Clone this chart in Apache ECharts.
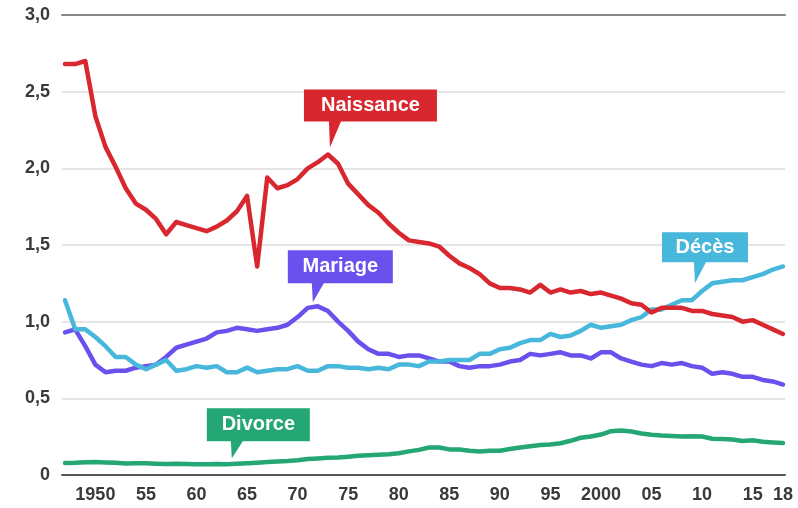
<!DOCTYPE html>
<html lang="fr">
<head>
<meta charset="UTF-8">
<script src="https://cdn.jsdelivr.net/npm/echarts@6/dist/echarts.min.js"></script>
<title>Naissances, décès, mariages et divorces</title>
</head>
<body style="margin:0;background:#fff">
<div id="main" style="width:798px;height:508px;"></div>
<script>
// values in millions, one per year
var years = [
  1947, 1948, 1949, 1950, 1951, 1952, 1953, 1954, 1955, 1956,
  1957, 1958, 1959, 1960, 1961, 1962, 1963, 1964, 1965, 1966,
  1967, 1968, 1969, 1970, 1971, 1972, 1973, 1974, 1975, 1976,
  1977, 1978, 1979, 1980, 1981, 1982, 1983, 1984, 1985, 1986,
  1987, 1988, 1989, 1990, 1991, 1992, 1993, 1994, 1995, 1996,
  1997, 1998, 1999, 2000, 2001, 2002, 2003, 2004, 2005, 2006,
  2007, 2008, 2009, 2010, 2011, 2012, 2013, 2014, 2015, 2016,
  2017, 2018
];
var naissance = [
  2.68, 2.68, 2.70, 2.34, 2.14, 2.01, 1.87, 1.77, 1.73, 1.67,
  1.57, 1.65, 1.63, 1.61, 1.59, 1.62, 1.66, 1.72, 1.82, 1.36,
  1.94, 1.87, 1.89, 1.93, 2.00, 2.04, 2.09, 2.03, 1.90, 1.83,
  1.76, 1.71, 1.64, 1.58, 1.53, 1.52, 1.51, 1.49, 1.43, 1.38,
  1.35, 1.31, 1.25, 1.22, 1.22, 1.21, 1.19, 1.24, 1.19, 1.21,
  1.19, 1.20, 1.18, 1.19, 1.17, 1.15, 1.12, 1.11, 1.06, 1.09,
  1.09, 1.09, 1.07, 1.07, 1.05, 1.04, 1.03, 1.00, 1.01, 0.98,
  0.95, 0.92
];
var deces = [
  1.14, 0.95, 0.95, 0.90, 0.84, 0.77, 0.77, 0.72, 0.69, 0.72,
  0.75, 0.68, 0.69, 0.71, 0.70, 0.71, 0.67, 0.67, 0.70, 0.67,
  0.68, 0.69, 0.69, 0.71, 0.68, 0.68, 0.71, 0.71, 0.70, 0.70,
  0.69, 0.70, 0.69, 0.72, 0.72, 0.71, 0.74, 0.74, 0.75, 0.75,
  0.75, 0.79, 0.79, 0.82, 0.83, 0.86, 0.88, 0.88, 0.92, 0.90,
  0.91, 0.94, 0.98, 0.96, 0.97, 0.98, 1.01, 1.03, 1.08, 1.08,
  1.11, 1.14, 1.14, 1.20, 1.25, 1.26, 1.27, 1.27, 1.29, 1.31,
  1.34, 1.36
];
var mariage = [
  0.93, 0.95, 0.84, 0.72, 0.67, 0.68, 0.68, 0.70, 0.71, 0.72,
  0.77, 0.83, 0.85, 0.87, 0.89, 0.93, 0.94, 0.96, 0.95, 0.94,
  0.95, 0.96, 0.98, 1.03, 1.09, 1.10, 1.07, 1.00, 0.94, 0.87,
  0.82, 0.79, 0.79, 0.77, 0.78, 0.78, 0.76, 0.74, 0.74, 0.71,
  0.70, 0.71, 0.71, 0.72, 0.74, 0.75, 0.79, 0.78, 0.79, 0.80,
  0.78, 0.78, 0.76, 0.80, 0.80, 0.76, 0.74, 0.72, 0.71, 0.73,
  0.72, 0.73, 0.71, 0.70, 0.66, 0.67, 0.66, 0.64, 0.64, 0.62,
  0.61, 0.59
];
var divorce = [
  0.079, 0.080, 0.083, 0.084, 0.082, 0.080, 0.075, 0.077, 0.076, 0.073,
  0.071, 0.073, 0.072, 0.070, 0.070, 0.072, 0.070, 0.073, 0.077, 0.080,
  0.084, 0.088, 0.091, 0.096, 0.104, 0.108, 0.112, 0.114, 0.119, 0.125,
  0.129, 0.132, 0.135, 0.142, 0.154, 0.164, 0.179, 0.179, 0.167, 0.166,
  0.158, 0.154, 0.158, 0.158, 0.169, 0.179, 0.188, 0.195, 0.199, 0.207,
  0.223, 0.243, 0.251, 0.264, 0.286, 0.290, 0.284, 0.271, 0.262, 0.257,
  0.255, 0.251, 0.253, 0.251, 0.236, 0.235, 0.231, 0.222, 0.226, 0.217,
  0.212, 0.208
];
var xTickYears = [1950, 1955, 1960, 1965, 1970, 1975, 1980, 1985, 1990, 1995, 2000, 2005, 2010, 2015, 2018];
var xTickLabels = ['1950', '55', '60', '65', '70', '75', '80', '85', '90', '95', '2000', '05', '10', '15', '18'];

var font = '"Liberation Sans", Arial, Helvetica, sans-serif';

function pairs(vals) {
  return years.map(function (y, i) { return [y, vals[i]]; });
}

// speech-bubble label: box w x h, pointer of height p starting px from the box's left edge,
// pointer tip sits gap px above the curve at the given year (shifted dx px)
function bubble(name, year, vals, color, w, h, p, px, dx, gap) {
  var path = 'path://M0,0L' + w + ',0L' + w + ',' + h + 'L' + (px + 12) + ',' + h +
    'L' + (px + 1) + ',' + (h + p) + 'L' + px + ',' + h + 'L0,' + h + 'Z';
  return {
    silent: true,
    animation: false,
    symbol: path,
    symbolSize: [w, h + p],
    symbolOffset: [w / 2 - px - 1 + dx, -(h + p) / 2 - gap],
    itemStyle: { color: color },
    label: {
      show: true,
      position: 'inside',
      offset: [0, -p / 2],
      formatter: name,
      color: '#fff',
      fontSize: 20,
      fontWeight: 'bold',
      fontFamily: font
    },
    data: [{ coord: [year, vals[years.indexOf(year)]] }]
  };
}

function line(name, vals, color, mark) {
  return {
    name: name,
    type: 'line',
    data: pairs(vals),
    showSymbol: false,
    symbol: 'none',
    lineStyle: { color: color, width: 4.5, cap: 'round', join: 'round' },
    itemStyle: { color: color },
    markPoint: mark
  };
}

var RED = '#d8272e', PURPLE = '#6a50ec', CYAN = '#48b7dc', GREEN = '#24a774';

var chart = echarts.init(document.getElementById('main'));
chart.setOption({
  animation: false,
  backgroundColor: '#fff',
  grid: { left: 62, right: 13, top: 15, bottom: 33 },
  xAxis: [{
    type: 'value',
    min: 1946.7,
    max: 2018.2,
    splitLine: { show: false },
    axisTick: { show: false },
    axisLine: { lineStyle: { color: '#555', width: 2 } },
    axisLabel: {
      customValues: xTickYears,
      formatter: function (v) { return xTickLabels[xTickYears.indexOf(Math.round(v))]; },
      color: '#3a3a3a',
      fontSize: 18,
      fontWeight: 'bold',
      fontFamily: font,
      margin: 11
    }
  }, {
    type: 'value',
    position: 'top',
    min: 1946.7,
    max: 2018.2,
    splitLine: { show: false },
    axisTick: { show: false },
    axisLabel: { show: false },
    axisLine: { show: true, lineStyle: { color: '#888', width: 2 } }
  }],
  yAxis: {
    type: 'value',
    min: 0,
    max: 3,
    interval: 0.5,
    axisLine: { show: false },
    axisTick: { show: false },
    splitLine: { lineStyle: { color: '#dcdcdc', width: 1.5 } },
    axisLabel: {
      formatter: function (v) { return v === 0 ? '0' : v.toFixed(1).replace('.', ','); },
      color: '#3a3a3a',
      fontSize: 18,
      fontWeight: 'bold',
      fontFamily: font,
      margin: 12
    }
  },
  series: [
    line('Divorce', divorce, GREEN, bubble('Divorce', 1963, divorce, GREEN, 103, 33, 17, 24, 5, 6)),
    line('Mariage', mariage, PURPLE, bubble('Mariage', 1972, mariage, PURPLE, 105, 33, 19, 24, -5, 4)),
    line('Décès', deces, CYAN, bubble('Décès', 2009, deces, CYAN, 86, 30, 21, 32, 3, 17)),
    line('Naissance', naissance, RED, bubble('Naissance', 1973, naissance, RED, 133, 32, 26, 25, 2, 7))
  ]
});
</script>
</body>
</html>
